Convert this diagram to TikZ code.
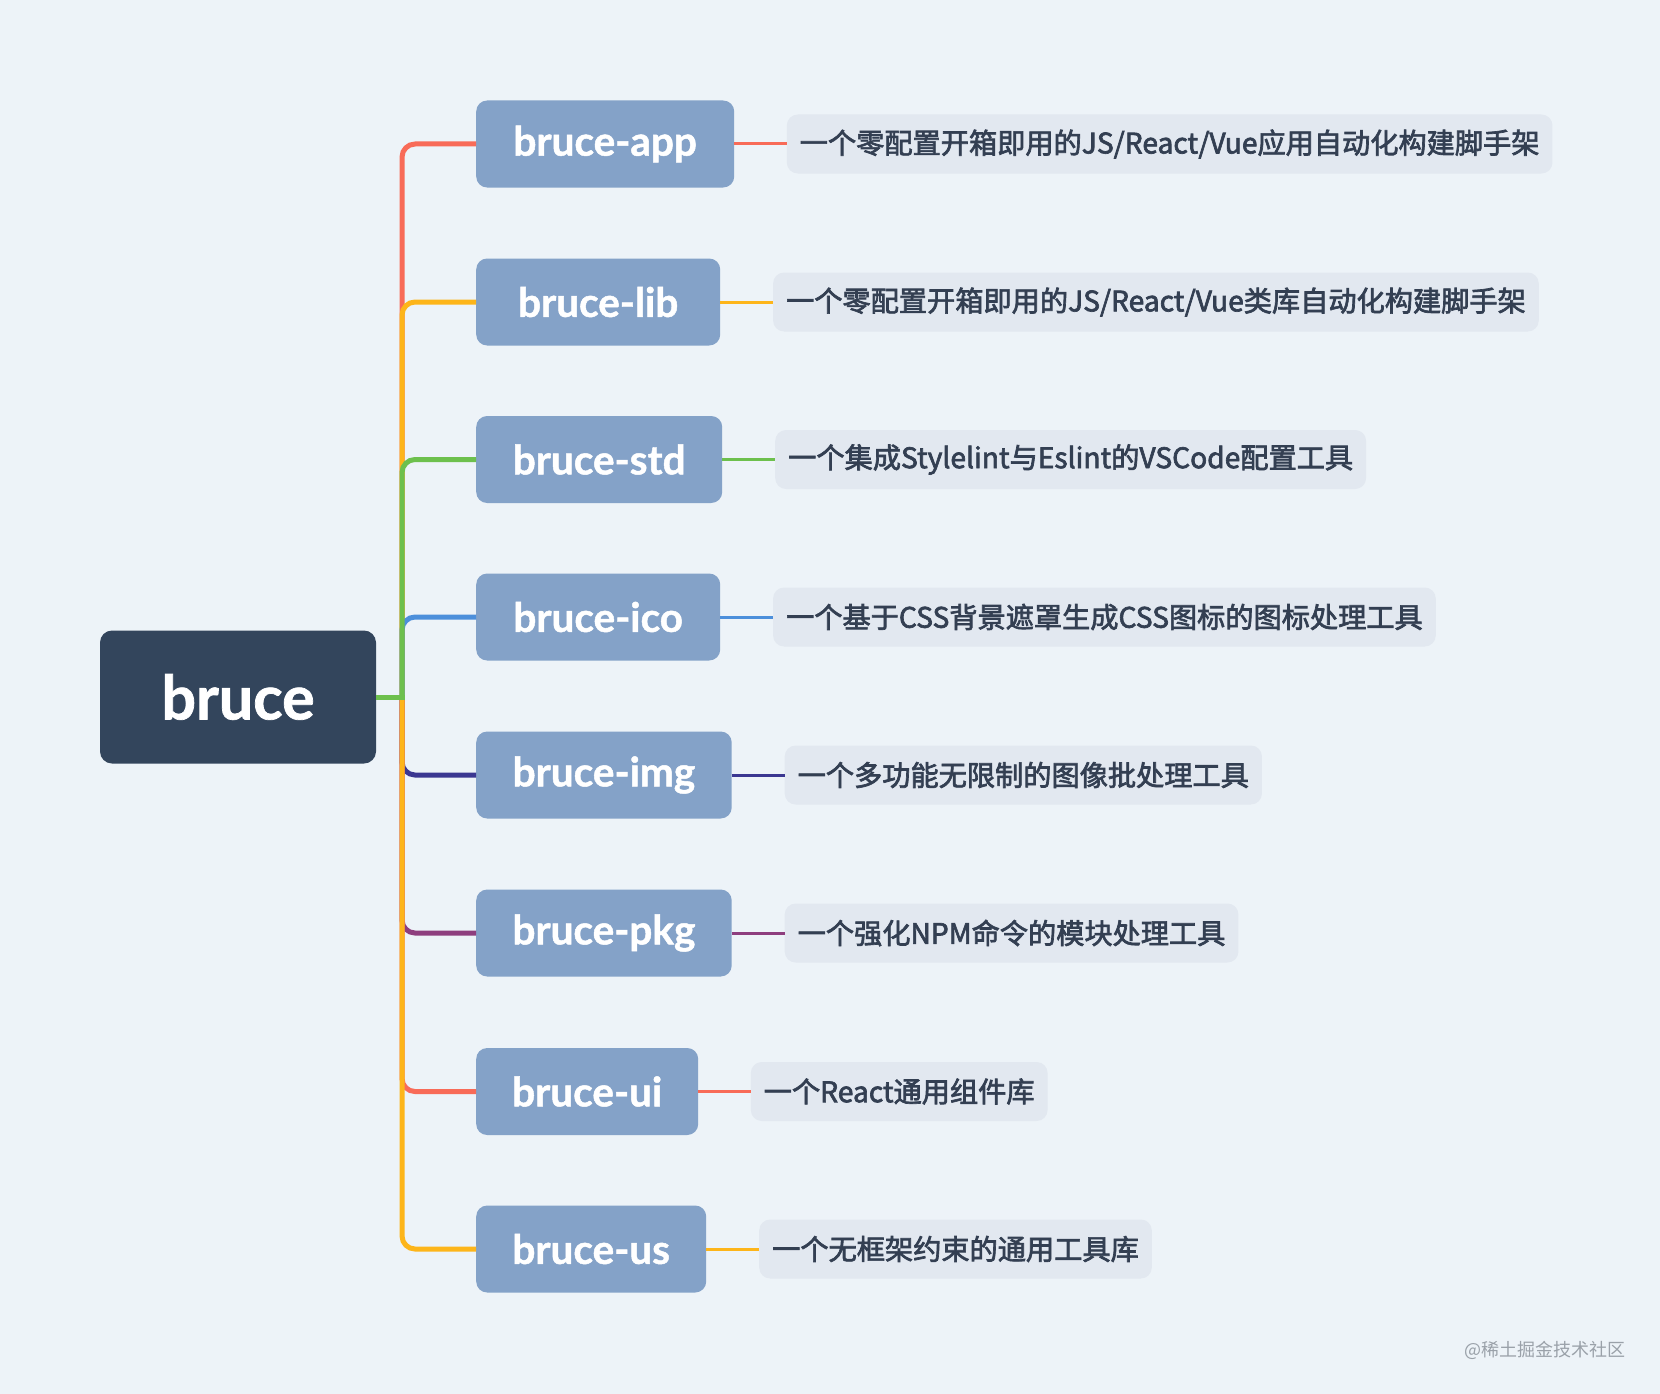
\documentclass[tikz,border=0pt]{standalone}
\usepackage{fontspec}
\newfontfamily\cjkfont{Noto Sans CJK SC}
\newfontfamily\descfont{Noto Sans CJK SC}[FakeBold=2.4]
\newfontfamily\latfont{Lato}[BoldFeatures={FakeBold=1.2}]
\definecolor{bgc}{HTML}{EDF3F8}
\definecolor{rootc}{HTML}{33455C}
\definecolor{childc}{HTML}{84A2C8}
\definecolor{descc}{HTML}{E2E8F0}
\definecolor{desctext}{HTML}{333F52}
\definecolor{cred}{HTML}{F86B58}
\definecolor{corange}{HTML}{FDB51A}
\definecolor{cgreen}{HTML}{6DC04D}
\definecolor{cblue}{HTML}{4C8FDB}
\definecolor{cindigo}{HTML}{3B3791}
\definecolor{cmagenta}{HTML}{8E3E7E}
\definecolor{wmark}{HTML}{9AA1A9}
\begin{document}
\begin{tikzpicture}[x=1pt,y=-1pt,
  rootbox/.style={fill=rootc, rounded corners=12pt, minimum width=276pt, minimum height=133pt,
    text=white, inner sep=0pt, font=\latfont\bfseries\fontsize{61}{61}\selectfont},
  childbox/.style={fill=childc, rounded corners=11pt, minimum height=87pt, anchor=west,
    text=white, inner sep=0pt, font=\latfont\bfseries\fontsize{40.5}{40.5}\selectfont},
  descbox/.style={fill=descc, rounded corners=11pt, minimum height=59pt, anchor=west,
    inner xsep=13pt, inner ysep=0pt, text=desctext, font=\descfont\fontsize{28.2}{28.2}\selectfont},
  trunkline/.style={line width=5pt, rounded corners=13pt},
  descline/.style={line width=3pt}
]
\fill[bgc] (0,0) rectangle (1660,1394);
\useasboundingbox (0,0) rectangle (1660,1394);

\node[rootbox] (root) at (238,697) {bruce};
\coordinate (J) at (402,697);

\node[childbox, minimum width=258pt] (app) at (476,144) {bruce-app};
\node[childbox, minimum width=244pt] (lib) at (476,302) {bruce-lib};
\node[childbox, minimum width=246pt] (std) at (476,459.5) {bruce-std};
\node[childbox, minimum width=244pt] (ico) at (476,617) {bruce-ico};
\node[childbox, minimum width=255.5pt] (img) at (476,775) {bruce-img};
\node[childbox, minimum width=255.5pt] (pkg) at (476,933) {bruce-pkg};
\node[childbox, minimum width=222pt] (ui) at (476,1091.5) {bruce-ui};
\node[childbox, minimum width=230pt] (us) at (476,1249) {bruce-us};

\node[descbox] (appd) at (786.6,144) {一个零配置开箱即用的JS/React/Vue应用自动化构建脚手架};
\node[descbox] (libd) at (772.9,302) {一个零配置开箱即用的JS/React/Vue类库自动化构建脚手架};
\node[descbox] (stdd) at (775,459.5) {一个集成Stylelint与Eslint的VSCode配置工具};
\node[descbox] (icod) at (772.9,617) {一个基于CSS背景遮罩生成CSS图标的图标处理工具};
\node[descbox] (imgd) at (784.5,775) {一个多功能无限制的图像批处理工具};
\node[descbox] (pkgd) at (784.5,933) {一个强化NPM命令的模块处理工具};
\node[descbox] (uid) at (750.6,1091.5) {一个React通用组件库};
\node[descbox] (usd) at (759,1249) {一个无框架约束的通用工具库};

% trunk branches (order matters for overlap colours)
\draw[trunkline, cred] (J) |- (app.west);
\draw[trunkline, corange] (J) |- (lib.west);
\draw[trunkline, cblue] (J) |- (ico.west);
\draw[trunkline, cgreen] (J) |- (std.west);
\draw[trunkline, cindigo] (J) |- (img.west);
\draw[trunkline, cmagenta] (J) |- (pkg.west);
\draw[trunkline, cred] (J) |- (ui.west);
\draw[trunkline, corange] (J) |- (us.west);
\draw[line width=5pt, cgreen] (root.east) -- ([xshift=2.5pt]J);

% description connectors
\draw[descline, cred] (app.east) -- (appd.west);
\draw[descline, corange] (lib.east) -- (libd.west);
\draw[descline, cgreen] (std.east) -- (stdd.west);
\draw[descline, cblue] (ico.east) -- (icod.west);
\draw[descline, cindigo] (img.east) -- (imgd.west);
\draw[descline, cmagenta] (pkg.east) -- (pkgd.west);
\draw[descline, cred] (ui.east) -- (uid.west);
\draw[descline, corange] (us.east) -- (usd.west);

\node[anchor=east, text=wmark, inner sep=0pt, font=\cjkfont\fontsize{18}{18}\selectfont] (wm) at (1626,1350) {@稀土掘金技术社区};
\end{tikzpicture}
\end{document}
